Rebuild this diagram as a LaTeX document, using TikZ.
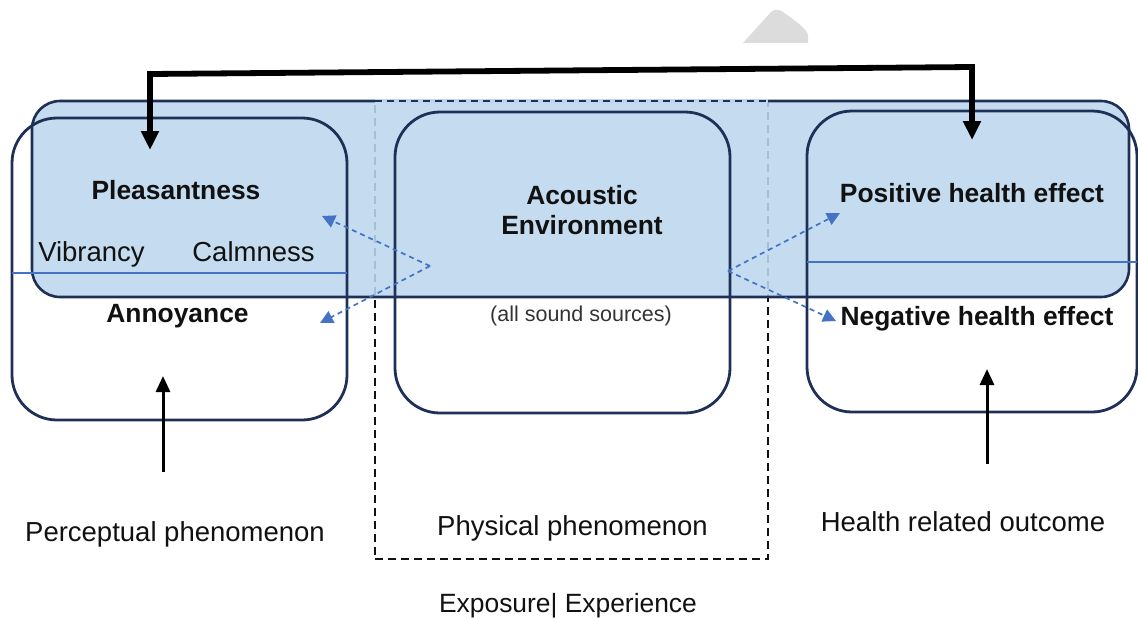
\documentclass[tikz,border=0pt]{standalone}
\usepackage{fontspec}
\setmainfont{Liberation Sans}
\usetikzlibrary{arrows.meta}

\definecolor{navy}{HTML}{1F3057}
\definecolor{bandblue}{HTML}{BDD7EE}
\definecolor{linkblue}{HTML}{4472C4}
\definecolor{ink}{HTML}{111111}
\definecolor{subink}{HTML}{333333}
\definecolor{tabgray}{HTML}{DCDCDC}

\tikzset{
  box/.style={draw=navy, line width=2.8pt, rounded corners=45pt, inner sep=0pt, outer sep=0pt},
  bandbox/.style={fill=bandblue, fill opacity=0.88, draw=navy, draw opacity=1, line width=2.6pt,
                  rounded corners=28pt, inner sep=0pt, outer sep=0pt},
  framebox/.style={draw=ink, line width=2.9pt, dash pattern=on 8pt off 5pt, inner sep=0pt, outer sep=0pt},
  boldlabel/.style={font=\fontsize{26.4}{30}\selectfont\bfseries, text=ink, anchor=base, inner sep=0pt},
  plainlabel/.style={font=\fontsize{27.5}{31}\selectfont, text=ink, anchor=base, inner sep=0pt},
  smalllabel/.style={font=\fontsize{21.5}{24}\selectfont, text=subink, anchor=base, inner sep=0pt},
  divider/.style={draw=linkblue, line width=1.4pt},
  link/.style={draw=linkblue, line width=1.7pt, dash pattern=on 5pt off 4pt,
               -{Triangle[length=13pt,width=13pt]}},
  feedback/.style={draw=black, line width=5.8pt, line join=miter,
                   {Triangle[length=19pt,width=17pt]}-{Triangle[length=19pt,width=17pt]}},
  cause/.style={draw=black, line width=3pt, -{Triangle[length=16pt,width=14pt]}},
}

\begin{document}
\begin{tikzpicture}[x=1pt, y=-1pt]
\useasboundingbox (0,0) rectangle (1138,619);

% grey tab at the top edge
\fill[tabgray] (743,43) -- (771,12) .. controls (774,9) and (779,9) .. (783,12)
  .. controls (797,22) and (808,30) .. (808,36) -- (808,43) -- cycle;

% dashed exposure frame (drawn first so the band tints it)
\node[framebox, minimum width=393pt, minimum height=458pt] (frame) at (571.5,330) {};

% blue band spanning the three boxes
\node[bandbox, minimum width=1097pt, minimum height=196pt] (band) at (580.5,199) {};
% frame top edge over the band outline
\draw[bandblue, line width=3.2pt] (frame.north west) -- (frame.north east);
\draw[navy, line width=2.4pt, dash pattern=on 7pt off 5pt] (frame.north west) -- (frame.north east);

% three main boxes
\node[box, minimum width=335pt, minimum height=302pt] (perc) at (179.5,269) {};
\node[box, minimum width=335pt, minimum height=301pt] (env)  at (562.5,262.5) {};
\node[box, minimum width=330pt, minimum height=301pt] (health) at (972,261.5) {};

% thin blue dividers
\draw[divider] (perc.west |- 0,273) -- (perc.east |- 0,273);
\draw[divider] (health.west |- 0,262) -- (health.east |- 0,262);

% labels inside the boxes
\node[boldlabel] (pleas) at (176,199) {Pleasantness};
\node[plainlabel] (vib) at (91.5,261) {Vibrancy};
\node[plainlabel] (calm) at (253.5,261) {Calmness};
\node[boldlabel] (annoy) at (177.5,322) {Annoyance};
\node[boldlabel, align=center] (acou) at (582,234) {Acoustic\\Environment};
\node[smalllabel] (sources) at (581,321) {(all sound sources)};
\node[boldlabel] (pos) at (972,202) {Positive health effect};
\node[boldlabel] (neg) at (977,325) {Negative health effect};

% labels under the boxes
\node[plainlabel] (perclab) at (175,541) {Perceptual phenomenon};
\node[plainlabel] (physlab) at (572.5,535) {Physical phenomenon};
\node[plainlabel] (healthlab) at (963,531) {Health related outcome};
\node[plainlabel, font=\fontsize{26.4}{30}\selectfont] (explab) at (568,612) {Exposure| Experience};

% link points
\coordinate (envL) at (430,266);
\coordinate (envR) at (728,271);
\coordinate (toPleas) at (322,216);
\coordinate (toAnnoy) at (320,323);
\coordinate (toPos) at (840,213);
\coordinate (toNeg) at (836,321);

\draw[link] (envL) -- (toPleas);
\draw[link] (envL) -- (toAnnoy);
\draw[link] (envR) -- (toPos);
\draw[link] (envR) -- (toNeg);

% feedback connector over the top
\coordinate (fbL) at (150,150);
\coordinate (fbR) at (972,140);
\draw[feedback] (fbL) -- (150,74) -- (972,67) -- (fbR);

% upward arrows from the bottom captions
\coordinate (percSrc) at (163,472);
\coordinate (percTip) at (163,376);
\coordinate (healthSrc) at (987,464);
\coordinate (healthTip) at (987,369);
\draw[cause] (percSrc) -- (percTip);
\draw[cause] (healthSrc) -- (healthTip);
\end{tikzpicture}
\end{document}
